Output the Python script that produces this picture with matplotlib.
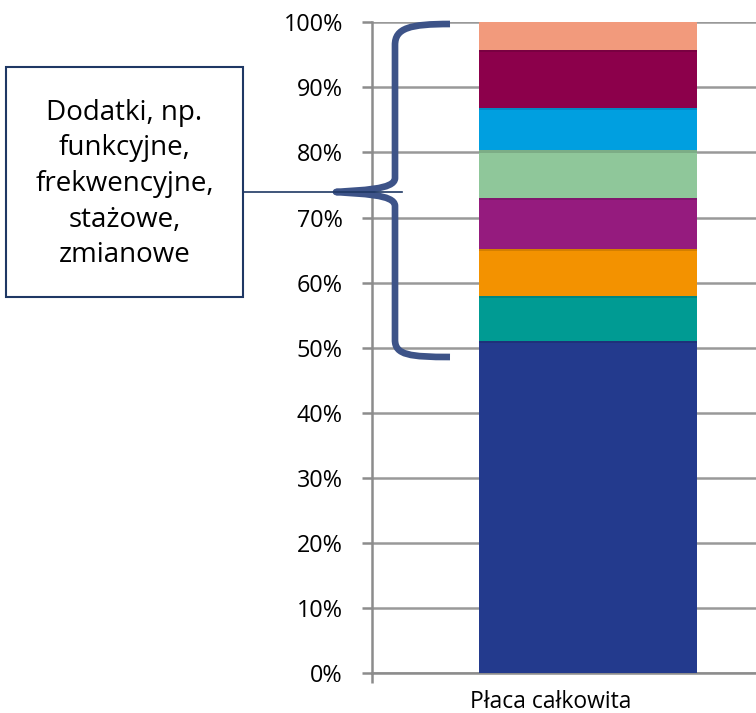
import matplotlib
matplotlib.use("Agg")
import matplotlib.pyplot as plt
from matplotlib.path import Path
from matplotlib.patches import PathPatch, Rectangle
from matplotlib.lines import Line2D
import matplotlib.transforms as mtransforms
import matplotlib.patheffects as pe

plt.rcParams['font.family'] = ['Open Sans', 'DejaVu Sans']

# ---- data ----
category = ["Płaca całkowita"]
segment_names = ["Płaca zasadnicza", "Dodatek 1", "Dodatek 2", "Dodatek 3",
                 "Dodatek 4", "Dodatek 5", "Dodatek 6", "Dodatek 7"]
segment_values = [51.0, 7.0, 7.2, 7.8, 7.3, 6.5, 8.9, 4.3]
segment_colors = ["#233A8D", "#009B93", "#F39200", "#951B7E",
                  "#8FC79A", "#009FE0", "#8C004B", "#F29A7C"]
y_ticks = list(range(0, 101, 10))
y_tick_labels = [f"{v}%" for v in y_ticks]
annotation_text = "Dodatki, np.\nfunkcyjne,\nfrekwencyjne,\nstażowe,\nzmianowe"

W, H = 756, 713
fig = plt.figure(figsize=(W / 100, H / 100), dpi=100)

def fx(px):
    return px / W

def fy(py):
    return 1 - py / H

ax_left, ax_right = 372, 804
ax_top, ax_bottom = 22.3, 673
ax = fig.add_axes([fx(ax_left), fy(ax_bottom), fx(ax_right - ax_left), (ax_bottom - ax_top) / H])
ax.set_xlim(-0.5, 0.5)
ax.set_ylim(0, 100)

bottom = 0
for v, c in zip(segment_values, segment_colors):
    ax.bar([0], [v], bottom=bottom, width=0.505, color=c, zorder=3,
           path_effects=[pe.SimplePatchShadow(offset=(0, -1.5), alpha=0.13, shadow_rgbFace='black'),
                         pe.Normal()])
    bottom += v

ax.set_yticks(y_ticks)
ax.set_yticklabels(y_tick_labels, fontsize=16.8)
ax.yaxis.grid(True, color="#999999", linewidth=1.8, zorder=0)
ax.set_axisbelow(True)
for s in ["top", "right"]:
    ax.spines[s].set_visible(False)
for s in ["left", "bottom"]:
    ax.spines[s].set_color("#8C8C8C")
    ax.spines[s].set_linewidth(1.8)
ax.tick_params(axis='y', length=7, width=1.8, color="#8C8C8C", pad=14)

ax.set_xticks([0])
ax.set_xticklabels(category, fontsize=16.5)
ax.tick_params(axis='x', which='major', length=0, pad=12)
ax.set_xticks([-0.5], minor=True)
ax.tick_params(axis='x', which='minor', length=7, width=1.8, color="#8C8C8C")
offset = mtransforms.ScaledTranslation(-37 / 100, 0, fig.dpi_scale_trans)
for lbl in ax.get_xticklabels():
    lbl.set_transform(lbl.get_transform() + offset)

# ---- brace ----
bc = "#3D5388"
verts_px = [
    (450, 24), (410, 24), (395, 28), (395, 45),
    (395, 178),
    (395, 190), (360, 190), (336, 192),
    (360, 194), (395, 194), (395, 206),
    (395, 340),
    (395, 355), (410, 357), (450, 357),
]
codes = [Path.MOVETO, Path.CURVE4, Path.CURVE4, Path.CURVE4,
         Path.LINETO,
         Path.CURVE4, Path.CURVE4, Path.CURVE4,
         Path.CURVE4, Path.CURVE4, Path.CURVE4,
         Path.LINETO,
         Path.CURVE4, Path.CURVE4, Path.CURVE4]
verts = [(fx(x), fy(y)) for x, y in verts_px]
brace = PathPatch(Path(verts, codes), transform=fig.transFigure, fill=False,
                  edgecolor=bc, linewidth=4.8, capstyle='butt', joinstyle='round')
fig.patches.append(brace)

# connector line
fig.lines.append(Line2D([fx(243), fx(402)], [fy(192.3), fy(192.3)],
                        transform=fig.transFigure, color="#1F3864", linewidth=1.2))

# text box
box = Rectangle((fx(6), fy(297)), fx(243 - 6), (297 - 67) / H, transform=fig.transFigure,
                fill=True, facecolor="white", edgecolor="#1F3864", linewidth=1.5)
fig.patches.append(box)
fig.text(fx(124.5), fy(184), annotation_text, ha='center', va='center', fontsize=20,
         linespacing=1.36, color="black")

fig.savefig("out.png", dpi=100)
